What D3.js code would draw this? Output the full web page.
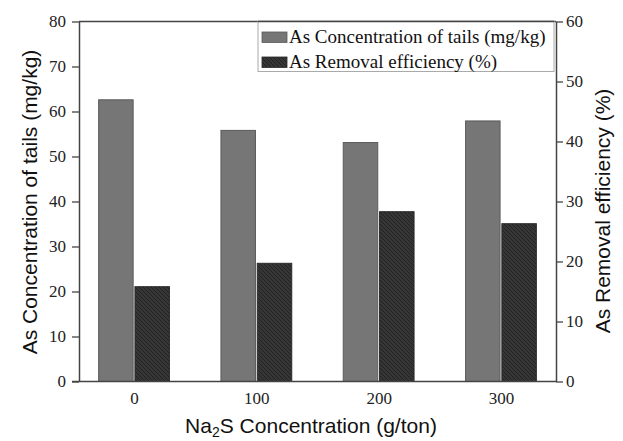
<!DOCTYPE html>
<html>
<head>
<meta charset="utf-8">
<script src="https://cdn.jsdelivr.net/npm/d3@7"></script>
<style>
  html, body { margin: 0; padding: 0; background: #fff; }
  svg { display: block; }
</style>
</head>
<body>
<svg id="chart" width="623" height="441"></svg>
<script>
// Na2S dosage levels (g/ton)
const categories = ["0", "100", "200", "300"];
// As concentration remaining in tails (mg/kg), left axis
const concentration = [62.6, 55.8, 53.1, 57.9];
// As removal efficiency (%), right axis
const removal = [15.8, 19.7, 28.3, 26.3];
const leftTicks = [0, 10, 20, 30, 40, 50, 60, 70, 80];
const rightTicks = [0, 10, 20, 30, 40, 50, 60];
const seriesNames = ["As Concentration of tails (mg/kg)", "As Removal efficiency (%)"];

const svg = d3.select("#chart");
const plot = { left: 79, right: 556, top: 21.5, bottom: 381.5 };
const serif = "'Liberation Serif', 'Times New Roman', Times, 'DejaVu Serif', serif";
const sans = "'Liberation Sans', Arial, Helvetica, sans-serif";

const x = d3.scalePoint().domain(categories).range([plot.left, plot.right]).padding(0.45);
const yL = d3.scaleLinear().domain([0, 80]).range([plot.bottom, plot.top]);
const yR = d3.scaleLinear().domain([0, 60]).range([plot.bottom, plot.top]);

// diagonal hatch for the removal-efficiency bars
const defs = svg.append("defs");
const pat = defs.append("pattern").attr("id", "hatch")
  .attr("patternUnits", "userSpaceOnUse").attr("width", 4).attr("height", 4);
pat.append("rect").attr("width", 4).attr("height", 4).attr("fill", "#363636");
pat.append("path").attr("d", "M-1,-1 L5,5 M-1,3 L1,5 M3,-1 L5,1")
  .attr("stroke", "#222").attr("stroke-width", 1);

const barW = 34.5, gap = 0.9;

// concentration bars (left of each group centre)
svg.append("g").selectAll("rect").data(concentration).join("rect")
  .attr("x", (d, i) => x(categories[i]) - gap - barW)
  .attr("y", d => yL(d))
  .attr("width", barW)
  .attr("height", d => yL(0) - yL(d))
  .attr("fill", "#767676")
  .attr("stroke", "#5a5a5a").attr("stroke-width", 1);

// removal bars (right of each group centre)
svg.append("g").selectAll("rect").data(removal).join("rect")
  .attr("x", (d, i) => x(categories[i]) + gap)
  .attr("y", d => yR(d))
  .attr("width", barW)
  .attr("height", d => yR(0) - yR(d))
  .attr("fill", "url(#hatch)")
  .attr("stroke", "#2a2a2a").attr("stroke-width", 1);

// frame: top, left and right axes plus baseline
const axisColor = "#444";
svg.append("line").attr("x1", plot.left).attr("x2", plot.right)
  .attr("y1", plot.top).attr("y2", plot.top)
  .attr("stroke", axisColor).attr("stroke-width", 1.5);

const gL = svg.append("g").attr("transform", `translate(${plot.left},0)`)
  .call(d3.axisLeft(yL).tickValues(leftTicks).tickSize(7).tickPadding(6).tickSizeOuter(0));
const gR = svg.append("g").attr("transform", `translate(${plot.right},0)`)
  .call(d3.axisRight(yR).tickValues(rightTicks).tickSize(7).tickPadding(3).tickSizeOuter(0));
const gB = svg.append("g").attr("transform", `translate(0,${plot.bottom})`)
  .call(d3.axisBottom(x).tickSize(0).tickPadding(10));
gB.select(".domain").attr("d", `M${plot.left - 7},0H${plot.right}`);

[gL, gR, gB].forEach(g => {
  g.attr("font-family", serif).attr("font-size", 17);
  g.select(".domain").attr("stroke", axisColor).attr("stroke-width", 1.5);
  g.selectAll(".tick line").attr("stroke", axisColor).attr("stroke-width", 1.3);
  g.selectAll(".tick text").attr("font-family", serif).attr("font-size", 17).attr("fill", "#222");
});

// axis titles
svg.append("text")
  .attr("transform", "translate(37,202) rotate(-90)")
  .attr("text-anchor", "middle")
  .attr("font-family", sans).attr("font-size", 21).attr("fill", "#111")
  .text("As Concentration of tails (mg/kg)");

svg.append("text")
  .attr("transform", "translate(610,211) rotate(-90)")
  .attr("text-anchor", "middle")
  .attr("font-family", sans).attr("font-size", 21).attr("fill", "#111")
  .text("As Removal efficiency (%)");

const xt = svg.append("text")
  .attr("x", 311).attr("y", 433)
  .attr("text-anchor", "middle")
  .attr("font-family", sans).attr("font-size", 21).attr("fill", "#111");
xt.append("tspan").text("Na");
xt.append("tspan").attr("font-size", 14).attr("dy", 4).text("2");
xt.append("tspan").attr("dy", -4).text("S Concentration (g/ton)");

// legend
const lg = svg.append("g");
lg.append("rect").attr("x", 258).attr("y", plot.top).attr("width", 296).attr("height", 50)
  .attr("fill", "#fff").attr("stroke", "#aaa").attr("stroke-width", 1);
lg.append("line").attr("x1", 258).attr("x2", 554).attr("y1", plot.top).attr("y2", plot.top)
  .attr("stroke", axisColor).attr("stroke-width", 1.5);
const fills = ["#767676", "url(#hatch)"];
const strokes = ["#5a5a5a", "#2a2a2a"];
seriesNames.forEach((name, i) => {
  const yy = 32 + i * 25;
  lg.append("rect").attr("x", 262).attr("y", yy).attr("width", 25).attr("height", 10.5)
    .attr("fill", fills[i]).attr("stroke", strokes[i]).attr("stroke-width", 0.8);
  lg.append("text").attr("x", 289).attr("y", yy + 11)
    .attr("font-family", serif).attr("font-size", 19).attr("fill", "#111")
    .text(name);
});
</script>
</body>
</html>
